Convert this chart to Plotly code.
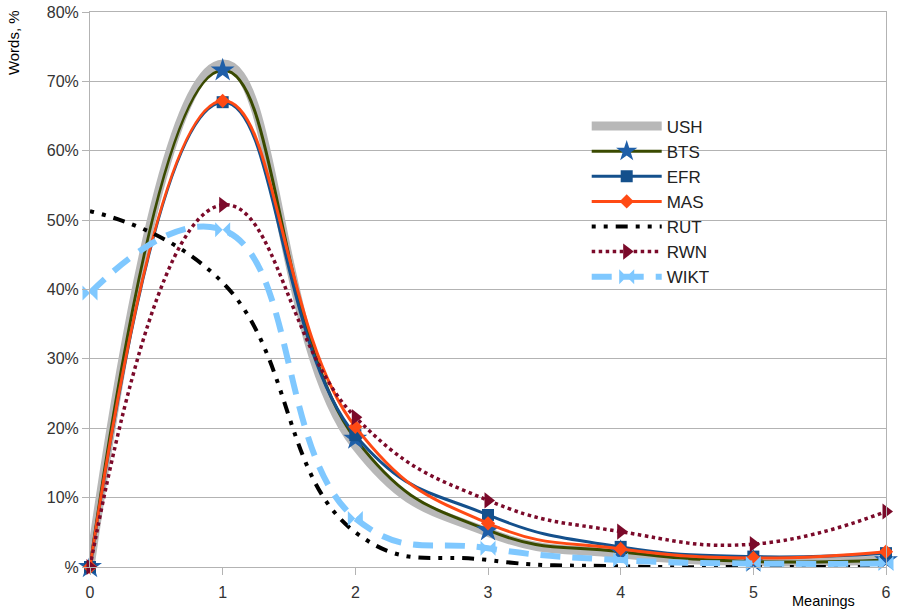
import plotly.graph_objects as go

meanings = [0, 1, 2, 3, 4, 5, 6]
USH = [0.0, 72.5, 17.5, 5.0, 1.9, 0.8, 1.0]
BTS = [0.0, 71.6, 18.5, 5.3, 2.2, 0.8, 1.0]
EFR = [0.0, 67.0, 19.0, 7.5, 2.9, 1.5, 2.0]
MAS = [0.0, 67.2, 20.2, 6.3, 2.6, 1.3, 2.2]
RUT = [51.3, 41.0, 5.0, 1.0, 0.1, 0.0, 0.0]
RWN = [0.0, 52.2, 21.6, 9.6, 5.1, 3.3, 8.0]
WIKT = [39.5, 48.6, 7.0, 2.7, 1.0, 0.5, 0.5]

y_ticks = [0, 10, 20, 30, 40, 50, 60, 70, 80]
y_ticktext = ["%", "10%", "20%", "30%", "40%", "50%", "60%", "70%", "80%"]

FONT = "Liberation Sans, Arial, sans-serif"

fig = go.Figure()

def add(name, y, color, width, dash="solid", symbol=None, mcolor=None, msize=10):
    mode = "lines+markers" if symbol else "lines"
    fig.add_trace(go.Scatter(
        x=meanings, y=y, name=name, mode=mode, legendgroup=name,
        line=dict(color=color, width=width, dash=dash, shape="spline", smoothing=1.3),
        marker=dict(symbol=symbol, color=mcolor or color, size=msize,
                    line=dict(width=0)) if symbol else None,
        cliponaxis=False,
    ))

add("USH", USH, "#b8b8b8", 9)
add("BTS", BTS, "#3a4a00", 3, symbol="star", mcolor="#1f5fa8", msize=18)
add("EFR", EFR, "#14508c", 3, symbol="square", mcolor="#14508c", msize=12)
add("MAS", MAS, "#ff4a14", 3, symbol="diamond", mcolor="#ff4a14", msize=11)
add("RUT", RUT, "#000000", 4, dash="4px,8px,4px,8px,12px,8px")
add("RWN", RWN, "#7b0a2a", 3.5, dash="dot", symbol="triangle-right", mcolor="#7b0a2a", msize=14)
add("WIKT", WIKT, "#7fc8ff", 6, dash="20px,12px", symbol="bowtie", mcolor="#7fc8ff", msize=15)

fig.update_layout(
    width=898, height=611,
    margin=dict(l=90, r=12, t=12, b=44, autoexpand=False),
    paper_bgcolor="white", plot_bgcolor="white",
    font=dict(family=FONT, size=15, color="#333333"),
    showlegend=True,
    legend=dict(x=0.624, y=0.826, xanchor="left", yanchor="top",
                bgcolor="rgba(0,0,0,0)", itemwidth=70,
                font=dict(size=17, color="#222222", family=FONT), tracegroupgap=0),
    xaxis=dict(range=[0, 6], tickvals=meanings, showgrid=False, zeroline=False,
               showline=True, linecolor="#b3b3b3", linewidth=1, mirror=True,
               ticks="outside", ticklen=7, tickcolor="#b3b3b3", automargin=False,
               ticklabelstandoff=4, ticklabeloverflow="allow",
               tickfont=dict(size=16, color="#333333", family=FONT)),
    yaxis=dict(range=[0, 80], tickvals=y_ticks, ticktext=y_ticktext,
               showgrid=True, gridcolor="#b3b3b3", gridwidth=1, zeroline=False,
               showline=True, linecolor="#b3b3b3", linewidth=1, mirror=True,
               ticks="outside", ticklen=7, tickcolor="#b3b3b3", automargin=False,
               ticklabeloverflow="allow",
               tickfont=dict(size=16, color="#333333", family=FONT)),
    annotations=[
        dict(text="Words, %", xref="paper", yref="paper", x=-0.0967, y=0.944,
             xanchor="center", yanchor="middle", textangle=-90, showarrow=False,
             font=dict(size=15, color="#000000", family=FONT)),
        dict(text="Meanings", xref="paper", yref="paper", x=0.921, y=-0.0613,
             xanchor="center", yanchor="middle", showarrow=False,
             font=dict(size=14.5, color="#000000", family=FONT)),
    ],
)

fig.write_html("out.html",
               config={"displayModeBar": False},
               post_script="document.body.style.margin='0px';document.body.style.overflow='hidden';")
